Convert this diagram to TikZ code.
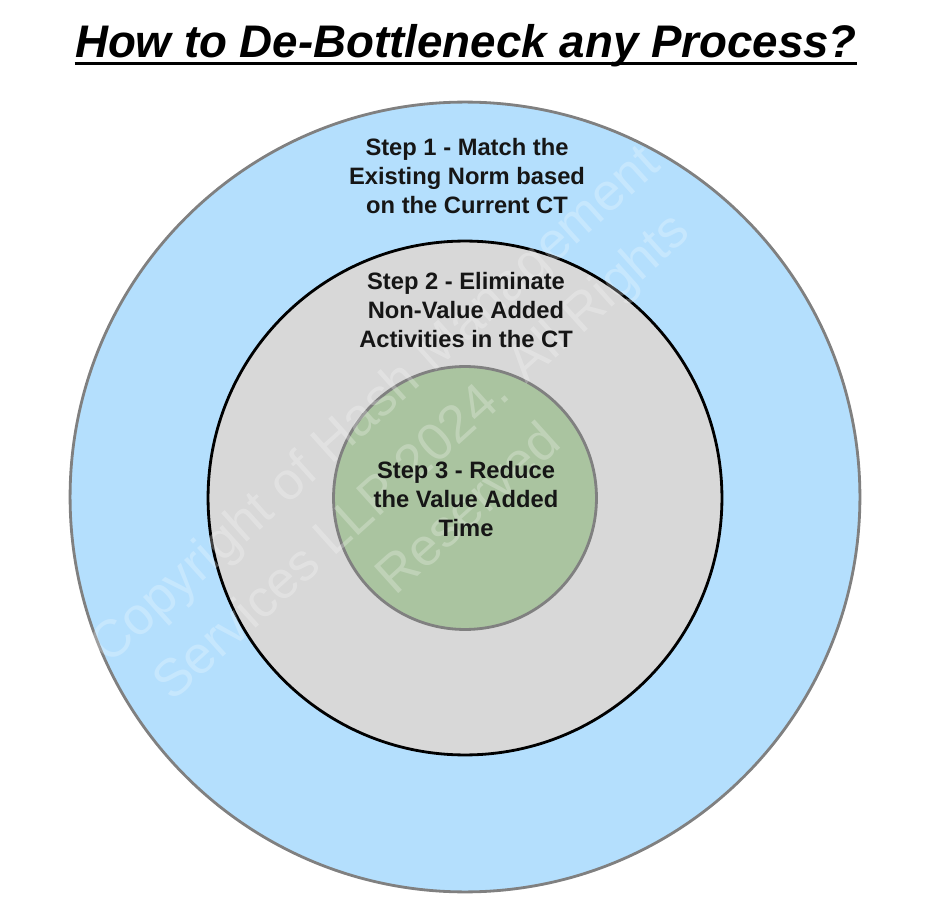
\documentclass[tikz,border=0pt]{standalone}
\usepackage{fontspec}
\setmainfont{Liberation Sans}
\usepackage{xcolor}
\usetikzlibrary{positioning}
\definecolor{skyfill}{RGB}{180,223,253}
\definecolor{greyfill}{RGB}{216,216,216}
\definecolor{sagefill}{RGB}{170,196,160}
\definecolor{ringgrey}{RGB}{128,128,128}
\definecolor{inkdark}{RGB}{22,22,22}

\begin{document}
\begin{tikzpicture}[x=0.02cm, y=-0.02cm,
  ring/.style={circle, draw, line width=1.6pt, inner sep=0pt},
  steptxt/.style={font=\fontsize{13.5}{16.5}\selectfont\bfseries, text=inkdark, align=center},
  mark wm/.style={font=\fontsize{30}{40}\selectfont, text=white, opacity=0.25, align=center, rotate=42}]
  \useasboundingbox (0,0) rectangle (937,922);
  % title
  \node[font=\fontsize{26}{30}\selectfont\bfseries\itshape, inner sep=0pt, xscale=1.0] (title) at (466,46)
    {How to De-Bottleneck any Process?};
  \draw[line width=1.7pt] (title.base west) ++(0,6) coordinate (ulA) -- (ulA -| title.base east);
  % rings
  \node[ring, draw=ringgrey, fill=skyfill, minimum size=15.8cm] (outer) at (465,497) {};
  \node[ring, draw=black, fill=greyfill, minimum size=10.28cm] (middle) at (465,498) {};
  \node[ring, draw=ringgrey, fill=sagefill, minimum size=5.26cm] (inner) at (465,498) {};
  % watermark
  \node[mark wm] (wm) at (420,455)
    {Copyright of Hash Management\\Services LLP 2024. All Rights\\Reserved};
  % step labels
  \node[steptxt] (s1) at (467,176) {Step 1 - Match the\\Existing Norm based\\on the Current CT};
  \node[steptxt] (s2) at (466,310) {Step 2 - Eliminate\\Non-Value Added\\Activities in the CT};
  \node[steptxt] (s3) at (466,499) {Step 3 - Reduce\\the Value Added\\Time};
\end{tikzpicture}
\end{document}
